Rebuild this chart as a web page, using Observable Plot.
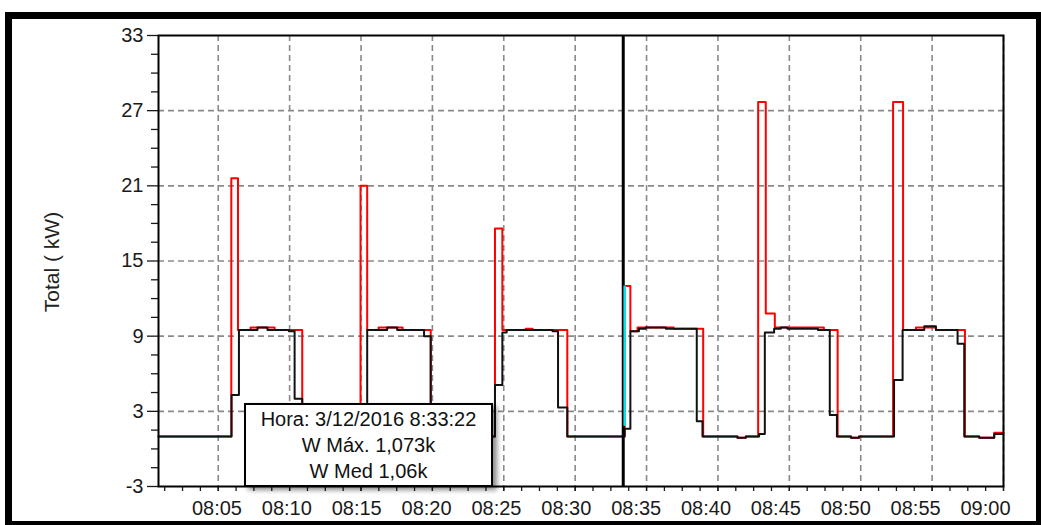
<!DOCTYPE html>
<html><head><meta charset="utf-8">
<script src="https://cdn.jsdelivr.net/npm/d3@7"></script>
<script src="https://cdn.jsdelivr.net/npm/@observablehq/plot@0.6"></script>
<style>
body{margin:0;background:#fff;}
#wrap{position:relative;width:1041px;height:525px;overflow:hidden;font-family:"Liberation Sans",Arial,sans-serif;background:#fff;}
#frame{position:absolute;left:5px;top:12px;right:0;bottom:0;border-left:7px solid #000;border-top:7px solid #000;border-right:5px solid #000;border-bottom:4px solid #000;box-sizing:border-box;}
#chart,#labels{position:absolute;left:0;top:0;}
#labels{pointer-events:none;}
#ylabel{position:absolute;left:52px;top:262px;transform:translate(-50%,-50%) rotate(-90deg);font-size:21px;color:#222;white-space:nowrap;}
#tip{position:absolute;left:244px;top:403px;width:249px;height:84px;box-sizing:border-box;border:2px solid #000;background:#fff;box-shadow:4px 3px 5px rgba(0,0,0,0.45);font-size:20px;text-align:center;line-height:26px;padding-top:1px;color:#111;}
</style>
</head><body>
<div id="wrap">
  <div id="frame"></div>
  <div id="chart"></div>
  <div id="labels"></div>
  <div id="ylabel">Total ( kW)</div>
  <div id="tip"></div>
</div>
<script>
// ---- data ----
const xTickLabels = ["08:05","08:10","08:15","08:20","08:25","08:30","08:35","08:40","08:45","08:50","08:55","09:00"];
const yTickValues = [-3, 3, 9, 15, 21, 27, 33];
const yMinorTicks = [-1.5, 0, 1.5, 4.5, 6, 7.5, 10.5, 12, 13.5, 16.5, 18, 19.5, 22.5, 24, 25.5, 28.5, 30, 31.5];
const xStart = "08:00:49";
const xEnd = "09:00:00";

// W Máx (red) – step series
const redTime = ["08:00:49","08:05:55","08:06:23","08:07:16","08:08:57","08:10:53","08:14:58","08:15:26","08:16:14","08:17:55","08:19:53","08:24:23","08:24:54","08:26:32","08:27:01","08:29:27","08:33:28","08:33:52","08:34:22","08:36:54","08:38:58","08:41:22","08:41:57","08:42:49","08:43:21","08:43:59","08:47:25","08:48:23","08:49:19","08:49:53","08:52:16","08:52:58","08:53:52","08:55:16","08:57:18","08:58:18","08:59:21","09:00:00"];
const redValue = [1.0,21.6,9.5,9.7,9.5,1.0,21.0,9.5,9.7,9.5,1.0,17.6,9.5,9.6,9.5,1.0,13.0,9.4,9.7,9.6,1.0,0.9,1.0,27.7,10.8,9.7,9.5,1.0,0.9,1.0,27.7,9.5,9.7,9.5,1.0,0.9,1.3,1.3];

// W Med (black) – step series
const blackTime = ["08:00:49","08:05:56","08:06:27","08:07:45","08:08:27","08:09:57","08:10:21","08:10:53","08:15:26","08:16:50","08:17:32","08:19:25","08:19:53","08:24:23","08:24:54","08:25:12","08:28:25","08:28:48","08:29:27","08:33:28","08:33:52","08:34:28","08:34:56","08:36:21","08:38:31","08:38:55","08:41:22","08:41:57","08:42:53","08:43:17","08:43:56","08:44:24","08:44:52","08:47:00","08:47:50","08:48:20","08:49:19","08:49:53","08:52:20","08:52:56","08:54:27","08:55:16","08:56:47","08:57:15","08:58:18","08:59:21","09:00:00"];
const blackValue = [1.0,4.3,9.5,9.7,9.5,9.4,4.0,1.0,9.5,9.7,9.5,9.0,1.0,5.1,9.3,9.5,9.4,3.3,1.0,1.6,9.4,9.6,9.7,9.6,2.2,1.0,0.9,1.0,1.2,9.3,9.6,9.7,9.6,9.5,2.7,1.0,0.9,1.0,5.5,9.5,9.8,9.5,8.4,1.0,0.9,1.2,1.2];

// cursor / highlighted sample
const cursorTime = "08:33:22";
const cyanTime = ["08:33:28"];
const cyanLow = [1.8];
const cyanHigh = [13.0];

const tipLines = ["Hora: 3/12/2016 8:33:22", "W Máx. 1,073k", "W Med 1,06k"];

// ---- build ----
const parseT = s => { const p = s.split(":").map(Number); return new Date(Date.UTC(2016, 11, 3, p[0], p[1], p[2] || 0)); };
const red = redTime.map((t, i) => ({t: parseT(t), v: redValue[i]}));
const black = blackTime.map((t, i) => ({t: parseT(t), v: blackValue[i]}));
const cyan = cyanTime.map((t, i) => ({t: parseT(t), lo: cyanLow[i], hi: cyanHigh[i]}));
const majorX = xTickLabels.map(s => parseT(s));
const x0 = parseT(xStart), x1 = parseT(xEnd);
const hourBase = parseT("08:00:00");
const minorX = d3.range(75, 3601, 75).map(s => new Date(+hourBase + s * 1000)).filter(d => d >= x0 && d <= x1);

const gridStyle = {stroke: "#8a8a8a", strokeOpacity: 1, strokeDasharray: "6,4", strokeWidth: 1.6};
const fontStyle = {background: "transparent", fontFamily: "'Liberation Sans', Arial, sans-serif", fontSize: "20px", color: "#1a1a1a"};

const chart = Plot.plot({
  width: 1041, height: 525,
  marginLeft: 158, marginRight: 38, marginTop: 35, marginBottom: 39,
  style: fontStyle,
  x: {type: "utc", domain: [x0, x1], label: null},
  y: {domain: [-3, 33], label: null},
  marks: [
    Plot.gridX(majorX, gridStyle),
    Plot.gridY(yTickValues.filter(v => v > -3 && v < 33), gridStyle),
    Plot.axisX({ticks: minorX, tickSize: 5, tickFormat: () => "", label: null, strokeWidth: 1.3}),
    Plot.axisX({ticks: majorX, tickSize: 5, tickFormat: () => "", label: null, strokeWidth: 1.3}),
    Plot.axisY({ticks: yMinorTicks, tickSize: 7, tickFormat: () => "", label: null, strokeWidth: 1.3}),
    Plot.axisY({ticks: yTickValues, tickSize: 11, tickPadding: 4, tickFormat: d => String(d), label: null, strokeWidth: 1.3}),
    Plot.line(red, {x: "t", y: "v", curve: "step-after", stroke: "#ff0000", strokeWidth: 2}),
    Plot.line(black, {x: "t", y: "v", curve: "step-after", stroke: "#111", strokeWidth: 2}),
    Plot.ruleX([parseT(cursorTime)], {stroke: "#000", strokeWidth: 3}),
    Plot.ruleX(cyan, {x: "t", y1: "lo", y2: "hi", stroke: "#00e5ee", strokeWidth: 2.5}),
    Plot.frame({stroke: "#000", strokeWidth: 2})
  ]
});
document.getElementById("chart").appendChild(chart);

// time labels: the source application spaces its labels slightly tighter than its grid
const labels = Plot.plot({
  width: 1041, height: 525,
  marginLeft: 158, marginRight: 56, marginTop: 35, marginBottom: 39,
  style: fontStyle,
  x: {type: "utc", domain: [x0, x1], label: null},
  y: {domain: [-3, 33], label: null, axis: null},
  marks: [
    Plot.axisX({ticks: majorX, tickSize: 0, tickPadding: 14, tickFormat: d3.utcFormat("%H:%M"), label: null})
  ]
});
document.getElementById("labels").appendChild(labels);

document.getElementById("tip").innerHTML = tipLines.map(s => `<div>${s}</div>`).join("");
</script>
</body></html>
